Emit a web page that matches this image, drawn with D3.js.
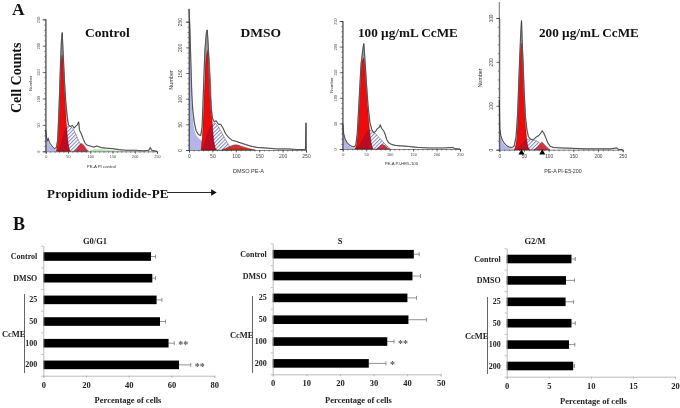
<!DOCTYPE html>
<html><head><meta charset="utf-8">
<script src="https://cdnjs.cloudflare.com/ajax/libs/d3/7.8.5/d3.min.js"></script>
<style>html,body{margin:0;padding:0;background:#fff}svg{display:block;filter:blur(0.4px)}text{font-family:"Liberation Serif",serif}</style>
</head><body><div id="c"></div>
<script>
// Panel A: histogram values [DNA content, count]
const histTitles=["Control","DMSO","100 µg/mL CcME","200 µg/mL CcME"];
const histXLabels=["PE-A PI control","DMSO PE-A","PE-A PI-HE5-100","PE-A PI-E5-200"];
const ctrlOutline=[[0,40],[2,26],[4,20],[6,24],[8,17],[12,12],[16,8],[20,5],[24,7],[27,22],[30,80],[33,160],[35,205],[37,225],[39,190],[42,135],[45,95],[48,68],[51,50],[55,47],[60,49],[64,44],[68,48],[71,50],[74,56],[76,40],[80,33],[84,24],[88,16],[92,12],[100,10],[108,8],[115,10],[125,7],[135,6],[150,5],[165,3],[180,2],[200,2],[220,1],[232,2],[235,7],[238,2],[250,0]];
const ctrlDebris=[[0,40],[3,22],[8,14],[14,8],[20,4],[26,2],[34,0]];
const ctrlG1=[[24,0],[27,25],[30,85],[33,150],[37,182],[41,150],[44,95],[47,45],[51,12],[55,0]];
const ctrlS=[[28,0],[34,12],[40,30],[46,44],[52,48],[60,44],[66,36],[72,24],[78,14],[86,6],[92,0]];
const ctrlG2=[[64,0],[70,5],[75,11],[80,15],[85,12],[90,6],[96,0]];
const ctrlExtra=[[98,0],[110,4],[125,4],[145,2],[165,1],[175,0]];
const dmsoOutline=[[0,275],[2,235],[4,170],[6,110],[8,78],[11,55],[15,38],[20,30],[25,28],[28,45],[31,120],[34,195],[37,228],[39,234],[41,205],[44,130],[47,85],[50,62],[54,55],[58,57],[63,50],[68,50],[72,44],[78,32],[85,24],[92,19],[100,17],[110,14],[120,11],[130,8],[145,5],[160,4],[175,3],[190,2],[210,2],[230,1],[249,1],[250,53],[250.5,0]];
const dmsoDebris=[[0,270],[2,220],[4,150],[6,95],[9,55],[13,35],[18,26],[25,20],[32,10],[40,4],[50,0]];
const dmsoG1=[[26,0],[30,50],[33,120],[37,180],[41,195],[45,150],[48,85],[51,35],[55,8],[59,0]];
const dmsoS=[[28,0],[34,14],[40,32],[47,46],[55,52],[62,46],[70,34],[78,20],[86,8],[92,0]];
const dmsoG2=[[70,0],[80,4],[90,8],[100,10],[110,8],[120,5],[132,2],[142,0]];
const dmsoExtra=[[70,0],[85,3],[100,4],[115,4],[130,2],[140,0]];
const h100Outline=[[0,50],[2,30],[5,20],[9,13],[14,8],[20,5],[25,4],[28,8],[31,30],[35,95],[39,165],[43,195],[45,206],[47,180],[50,135],[54,85],[58,52],[62,38],[66,32],[70,34],[74,40],[78,42],[80,47],[83,40],[87,36],[90,30],[94,18],[98,12],[104,9],[112,7],[125,6],[140,5],[160,3],[185,2],[215,2],[235,3],[238,1],[250,0]];
const h100Debris=[[0,50],[2,28],[5,18],[9,11],[14,6],[20,3],[28,1],[34,0]];
const h100G1=[[26,0],[30,12],[33,50],[37,125],[42,172],[45,177],[49,150],[53,90],[57,38],[61,10],[65,0]];
const h100S=[[28,0],[36,8],[44,20],[50,30],[56,36],[62,35],[70,30],[78,22],[86,14],[94,6],[102,0]];
const h100G2=[[72,0],[78,5],[85,9],[92,5],[98,0]];
const e200Outline=[[0,113],[1,48],[3,32],[6,22],[10,15],[15,9],[20,6],[26,5],[30,8],[34,30],[37,80],[40,170],[43,255],[45,294],[47,230],[50,140],[53,75],[56,45],[59,30],[63,24],[68,22],[72,26],[76,30],[80,32],[84,38],[87,43],[90,38],[94,28],[98,16],[103,8],[110,5],[125,4],[150,3],[175,2],[200,2],[225,2],[238,4],[241,1],[250,0]];
const e200Debris=[[0,113],[1,46],[3,28],[6,18],[10,12],[15,7],[20,4],[28,2],[36,0]];
const e200G1=[[30,0],[34,14],[37,60],[40,165],[43,232],[45,242],[48,205],[51,115],[54,45],[57,12],[61,0]];
const e200S=[[34,0],[42,8],[48,16],[54,22],[60,24],[68,23],[76,20],[84,12],[90,5],[96,0]];
const e200G2=[[70,0],[76,5],[82,12],[86,17],[91,12],[97,5],[103,0]];
const yTicksA=[0,50,100,150,200,250];
const yTicksD=[0,100,200,300];
const xTicksA=[0,50,100,150,200,250];
const xMinorA=[0,10,20,30,40,50,60,70,80,90,100,110,120,130,140,150,160,170,180,190,200,210,220,230,240,250];
const arrowDoses=[45,87];
// Panel B: bar charts
const categories=["Control","DMSO","25","50","100","200"];
const groupLabel="CcME";
const g1Values=[50.4,51,53,54.6,58.6,63.5];
const g1Errors=[52.5,52.5,55.5,57.2,61.3,69];
const g1Stars=["","","","","**","**"];
const sValues=[42,41.6,40.1,40.4,34.1,28.6];
const sErrors=[43.6,44,42.8,45.8,36.1,33.7];
const sStars=["","","","","**","*"];
const g2Values=[7.7,7.05,7,7.7,7.4,7.9];
const g2Errors=[8.15,8.05,7.95,8.15,8.1,8.05];
const g2Stars=["","","","","",""];
const xTicksG1=[0,20,40,60,80];
const xTicksS=[0,10,20,30,40,50];
const xTicksG2=[0,5,10,15,20];

const svg=d3.select("#c").append("svg").attr("width",680).attr("height",408).attr("viewBox","0 0 680 408");
const defs=svg.append("defs");
const pat=defs.append("pattern").attr("id","hatch").attr("width",2.6).attr("height",2.6).attr("patternUnits","userSpaceOnUse").attr("patternTransform","rotate(-45)");
pat.append("rect").attr("width",2.6).attr("height",2.6).attr("fill","#fff").attr("opacity",0.3);
pat.append("rect").attr("width",2.6).attr("height",1).attr("fill","#5560b0").attr("opacity",0.75);

const T=(x,y,s,size,opt={})=>svg.append("text").attr("x",x).attr("y",y).text(s).attr("font-size",size)
  .attr("font-weight",opt.w||"bold").attr("fill",opt.fill||"#111").attr("text-anchor",opt.a||"start")
  .attr("transform",opt.r?`rotate(${opt.r} ${x} ${y})`:null).style("letter-spacing",opt.ls||null);

let clipN=0;
function hist(cfg){
  const g=svg.append("g");
  const x=d3.scaleLinear().domain([0,250]).range([cfg.x0,cfg.x1]);
  const y=d3.scaleLinear().domain([0,cfg.ymax]).range([cfg.y0,cfg.y1]);
  const area=d3.area().x(d=>x(d[0])).y0(y(0)).y1(d=>y(d[1])).curve(d3.curveMonotoneX);
  const line=d3.line().x(d=>x(d[0])).y(d=>y(d[1]));
  const add=(data,fill,op=1,st=null)=>g.append("path").datum(data).attr("d",area).attr("fill",fill).attr("opacity",op).attr("stroke",st).attr("stroke-width",st?0.4:0);
  g.append("path").datum(cfg.outline.filter(d=>d[0]>=cfg.g1[2][0]&&d[0]<=cfg.g1[6][0])).attr("d",d3.area().x(d=>x(d[0])).y0(y(0)).y1(d=>y(d[1]))).attr("fill","#9a9a9a");
  add(cfg.debris,"#b4b6ea");
  if(cfg.extra)add(cfg.extra,cfg.extraFill);
  add(cfg.s,"url(#hatch)",1,"#333");
  add(cfg.g1,"#ee0b0e",1,"#400");
  add(cfg.g2,cfg.g2Fill||"#d01525",0.85,"#400");
  const id="g1clip"+(clipN++);
  defs.append("clipPath").attr("id",id).append("path").datum(cfg.g1).attr("d",area);
  add(cfg.s,"#7a1040",0.45,"#400").attr("clip-path",`url(#${id})`);
  g.append("path").datum(cfg.outline).attr("d",line).attr("fill","none").attr("stroke","#999").attr("stroke-width",1.2);
  g.append("path").datum(cfg.outline).attr("d",line).attr("fill","none").attr("stroke","#222").attr("stroke-width",0.6);
  const ax=g.append("g").attr("transform",`translate(0,${cfg.y0})`).call(d3.axisBottom(x).tickValues(cfg.xt).tickSize(2.5).tickPadding(2));
  g.append("g").attr("transform",`translate(0,${cfg.y0})`).call(d3.axisBottom(x).tickValues(xMinorA).tickSize(1.5).tickFormat("")).call(s=>s.select(".domain").remove()).selectAll("line").attr("stroke","#333").attr("stroke-width",0.5);
  const ay=g.append("g").attr("transform",`translate(${cfg.x0},0)`).call(d3.axisLeft(y).tickValues(cfg.yt).tickSize(3).tickPadding(2));
  const minor=d3.range(0,cfg.ymax+1,cfg.ymax/(cfg.yt.length-1)/5);
  g.append("g").attr("transform",`translate(${cfg.x0},0)`).call(d3.axisLeft(y).tickValues(minor).tickSize(1.5).tickFormat("")).call(s=>s.select(".domain").remove()).selectAll("line").attr("stroke","#333").attr("stroke-width",0.5);
  g.append("line").attr("x1",cfg.x0).attr("x2",cfg.x0).attr("y1",cfg.y0).attr("y2",cfg.top).attr("stroke","#333").attr("stroke-width",0.7);
  const sans="'Liberation Sans',sans-serif";
  [ax,ay].forEach(a=>{a.selectAll("path,line").attr("stroke","#333").attr("stroke-width",0.6);a.selectAll("text").attr("fill","#444").attr("font-size",cfg.fs).style("font-family",sans)});
  ay.selectAll("text").attr("text-anchor","middle").attr("dy",0).attr("x",0).attr("y",0).attr("transform",`translate(${-cfg.fs-2} 0) rotate(-90)`);
  svg.append("text").attr("x",(cfg.x0+cfg.x1)/2-cfg.lblShift).attr("y",cfg.y0+cfg.lblDy).attr("text-anchor","middle").attr("font-size",cfg.fs+0.5).attr("fill","#333").style("font-family",sans).text(cfg.xlabel);
  svg.append("text").attr("transform",`translate(${cfg.x0-cfg.numDx},${(cfg.y0+cfg.y1)/2+cfg.numDy}) rotate(-90)`).attr("text-anchor","middle").attr("font-size",cfg.fs+0.5).attr("fill","#333").style("font-family",sans).text("Number");
  if(cfg.marks)cfg.marks.forEach(m=>g.append("path").attr("d",d3.symbol(d3.symbolTriangle,16)()).attr("transform",`translate(${x(m)},${cfg.y0+3})`).attr("fill","#000"));
}
hist({x0:45.7,x1:157,y0:151.3,y1:19.3,ymax:250,top:19,xt:xTicksA,yt:yTicksA,fs:3.8,outline:ctrlOutline,debris:ctrlDebris,g1:ctrlG1,s:ctrlS,g2:ctrlG2,extra:ctrlExtra,extraFill:"#a8eaa8",xlabel:histXLabels[0],lblShift:0,lblDy:17,numDx:14,numDy:-2});
hist({x0:189,x1:306,y0:150,y1:21.7,ymax:250,top:9,xt:xTicksA,yt:yTicksA,fs:5,outline:dmsoOutline,debris:dmsoDebris,g1:dmsoG1,s:dmsoS,g2:dmsoG2,g2Fill:"#c01520",extra:dmsoExtra,extraFill:"#e8c020",xlabel:histXLabels[1],lblShift:-1,lblDy:23,numDx:16,numDy:-6});
hist({x0:342.7,x1:460,y0:149,y1:21,ymax:250,top:21,xt:xTicksA,yt:yTicksA,fs:3.8,outline:h100Outline,debris:h100Debris,g1:h100G1,s:h100S,g2:h100G2,xlabel:histXLabels[2],lblShift:0,lblDy:16,numDx:10,numDy:0});
hist({x0:499.3,x1:622.7,y0:149.7,y1:18,ymax:300,top:2,xt:xTicksA,yt:yTicksD,fs:4.8,outline:e200Outline,debris:e200Debris,g1:e200G1,s:e200S,g2:e200G2,marks:arrowDoses,xlabel:histXLabels[3],lblShift:-2,lblDy:23,numDx:17,numDy:-6});

T(12,15,"A",17.5);
T(85,37,histTitles[0],13.5);
T(240.5,37,histTitles[1],13.5);
T(358,37,histTitles[2],13.2);
T(539,37,histTitles[3],13.2);
T(21,113,"Cell Counts",14,{r:-90});
T(47,198,"Propidium iodide-PE",13,{ls:"0.2px"});
svg.append("line").attr("x1",167).attr("x2",212).attr("y1",192.5).attr("y2",192.5).attr("stroke","#111").attr("stroke-width",0.9);
svg.append("path").attr("d",d3.symbol(d3.symbolTriangle,18)()).attr("transform","translate(213,192.5) rotate(90)").attr("fill","#111");
T(13,230,"B",18);

function bars(cfg){
  const g=svg.append("g");
  const x=d3.scaleLinear().domain(cfg.dom).range([cfg.x0,cfg.x1]);
  const y=d3.scaleBand().domain(categories).range([cfg.top,cfg.bot]);
  const bh=8.6;
  g.selectAll("line.err").data(categories).join("line").attr("x1",(d,i)=>x(cfg.v[i])).attr("x2",(d,i)=>x(cfg.e[i])).attr("y1",d=>y(d)+y.bandwidth()/2).attr("y2",d=>y(d)+y.bandwidth()/2).attr("stroke","#777").attr("stroke-width",0.8);
  g.selectAll("line.cap").data(categories).join("line").attr("x1",(d,i)=>x(cfg.e[i])).attr("x2",(d,i)=>x(cfg.e[i])).attr("y1",d=>y(d)+y.bandwidth()/2-2).attr("y2",d=>y(d)+y.bandwidth()/2+2).attr("stroke","#777").attr("stroke-width",0.8);
  g.selectAll("rect").data(categories).join("rect").attr("x",x(0)).attr("y",d=>y(d)+y.bandwidth()/2-bh/2).attr("width",(d,i)=>x(cfg.v[i])-x(0)).attr("height",bh).attr("fill","#000");
  const ax=g.append("g").attr("transform",`translate(0,${cfg.bot})`).call(d3.axisBottom(x).tickValues(cfg.ticks).tickSize(2).tickPadding(4));
  const ay=g.append("g").attr("transform",`translate(${cfg.x0},0)`).call(d3.axisLeft(y).tickSize(0).tickPadding(6));
  g.append("g").attr("transform",`translate(${cfg.x0},0)`).call(d3.axisLeft(d3.scaleLinear().domain([0,6]).range([cfg.top,cfg.bot])).ticks(6).tickSize(2).tickFormat("")).select(".domain").remove();
  g.selectAll("path.domain,.tick line").attr("stroke","#aaa").attr("stroke-width",0.8);
  [ax,ay].forEach(a=>a.selectAll("text").attr("font-size",8).attr("font-weight","bold").attr("fill","#222"));
  ax.selectAll("text").attr("font-size",8.5);
  categories.forEach((c,i)=>{if(cfg.st[i])g.append("text").attr("x",x(cfg.e[i])+4).attr("y",y(c)+y.bandwidth()/2+5).text(cfg.st[i]).attr("font-size",10).attr("font-weight","bold").attr("fill","#555")});
  g.append("line").attr("x1",cfg.bx).attr("x2",cfg.bx).attr("y1",cfg.by0).attr("y2",cfg.by1).attr("stroke","#555").attr("stroke-width",0.9);
  g.append("text").attr("x",cfg.bx+1).attr("y",(cfg.by0+cfg.by1)/2+3).attr("text-anchor","end").text(groupLabel).attr("font-size",8.5).attr("font-weight","bold").attr("fill","#222");
  g.append("text").attr("x",cfg.tx).attr("y",cfg.ty).attr("text-anchor","middle").text(cfg.title).attr("font-size",8.5).attr("font-weight","bold").attr("fill","#222");
  g.append("text").attr("x",cfg.lx).attr("y",cfg.ly).attr("text-anchor","middle").text("Percentage of cells").attr("font-size",8.5).attr("font-weight","bold").attr("fill","#222");
}
bars({x0:43.3,x1:214.3,top:245.7,bot:375.7,dom:[0,80],ticks:xTicksG1,v:g1Values,e:g1Errors,st:g1Stars,bx:24.5,by0:294,by1:373,tx:95,ty:244,lx:128,ly:403,title:"G0/G1"});
bars({x0:272.7,x1:440.7,top:243.3,bot:374.3,dom:[0,50],ticks:xTicksS,v:sValues,e:sErrors,st:sStars,bx:252.5,by0:296,by1:373,tx:340,ty:244,lx:358.5,ly:403,title:"S"});
bars({x0:506.7,x1:675,top:248.3,bot:376.7,dom:[0,20],ticks:xTicksG2,v:g2Values,e:g2Errors,st:g2Stars,bx:487.5,by0:297,by1:374,tx:535,ty:244,lx:593.5,ly:404,title:"G2/M"});
</script></body></html>
